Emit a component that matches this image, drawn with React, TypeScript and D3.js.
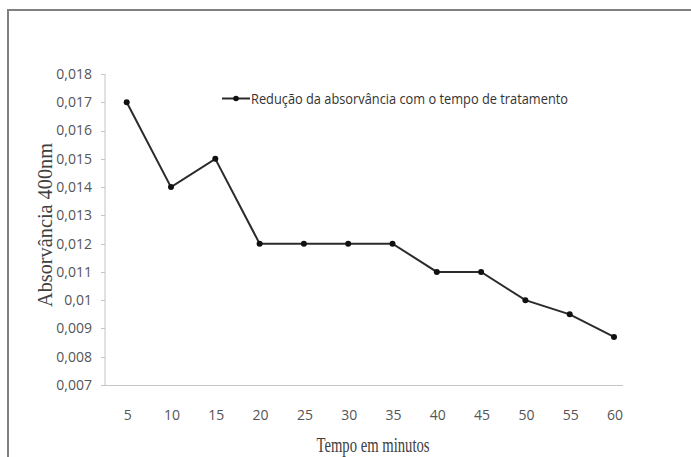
import * as d3 from "d3";
import { useEffect, useRef } from "react";

const minutes = ["5", "10", "15", "20", "25", "30", "35", "40", "45", "50", "55", "60"];
const absorbance = [0.017, 0.014, 0.015, 0.012, 0.012, 0.012, 0.012, 0.011, 0.011, 0.01, 0.0095, 0.0087];
const yTicks = [0.007, 0.008, 0.009, 0.01, 0.011, 0.012, 0.013, 0.014, 0.015, 0.016, 0.017, 0.018];
const yTickLabels = ["0,007", "0,008", "0,009", "0,01", "0,011", "0,012", "0,013", "0,014", "0,015", "0,016", "0,017", "0,018"];
const legendLabel = "Redução da absorvância com o tempo de tratamento";

export default function App() {
  const svgRef = useRef<SVGSVGElement>(null);
  const width = 691;
  const height = 457;

  useEffect(() => {
    if (!svgRef.current) return;
    const svg = d3.select(svgRef.current);
    svg.selectAll("*").remove();

    const sans = "'Open Sans', sans-serif";
    const serif = "'Liberation Serif', 'DejaVu Serif', serif";

    // outer frame (runs off the right and bottom edges)
    svg
      .append("rect")
      .attr("x", 8)
      .attr("y", 10)
      .attr("width", 720)
      .attr("height", 500)
      .style("fill", "none")
      .style("stroke", "#808080")
      .style("stroke-width", 2);

    const xScale = d3.scalePoint<string>().domain(minutes).range([126.7, 614]);
    const yScale = d3.scaleLinear().domain([0.007, 0.018]).range([385, 74]);

    const axisLeft = 105;
    const axisRight = 623;
    const axisColor = "#c4c4c4";

    // y axis
    svg
      .append("line")
      .attr("x1", axisLeft)
      .attr("x2", axisLeft)
      .attr("y1", yScale(0.018))
      .attr("y2", yScale(0.007))
      .style("stroke", axisColor);

    yTicks.forEach((t, i) => {
      svg
        .append("line")
        .attr("x1", axisLeft - 4)
        .attr("x2", axisLeft)
        .attr("y1", Math.round(yScale(t)) + 0.5)
        .attr("y2", Math.round(yScale(t)) + 0.5)
        .style("stroke", axisColor);
      svg
        .append("text")
        .attr("x", 92)
        .attr("y", yScale(t))
        .attr("dy", "0.35em")
        .attr("text-anchor", "end")
        .style("font-family", sans)
        .style("font-size", "14px")
        .style("fill", "#555")
        .text(yTickLabels[i]);
    });

    // x axis
    svg
      .append("line")
      .attr("x1", axisLeft)
      .attr("x2", axisRight)
      .attr("y1", 385.5)
      .attr("y2", 385.5)
      .style("stroke", axisColor);

    minutes.forEach((m) => {
      svg
        .append("text")
        .attr("x", xScale(m)! + 1)
        .attr("y", 415)
        .attr("dy", "0.35em")
        .attr("text-anchor", "middle")
        .style("font-family", sans)
        .style("font-size", "14px")
        .style("fill", "#555")
        .text(m);
    });

    // data line
    const line = d3
      .line<number>()
      .x((_, i) => xScale(minutes[i])!)
      .y((d) => yScale(d));

    svg
      .append("path")
      .datum(absorbance)
      .attr("d", line)
      .style("fill", "none")
      .style("stroke", "#2b2b2b")
      .style("stroke-width", 2);

    svg
      .selectAll(".pt")
      .data(absorbance)
      .enter()
      .append("circle")
      .attr("class", "pt")
      .attr("cx", (_, i) => xScale(minutes[i])!)
      .attr("cy", (d) => yScale(d))
      .attr("r", 3)
      .style("fill", "#111");

    // legend
    const legend = svg.append("g").attr("transform", "translate(222, 98.5)");
    legend
      .append("line")
      .attr("x1", 0)
      .attr("x2", 28)
      .style("stroke", "#2b2b2b")
      .style("stroke-width", 2);
    legend.append("circle").attr("cx", 14).attr("r", 2.8).style("fill", "#111");
    legend
      .append("text")
      .attr("x", 29)
      .attr("dy", "0.35em")
      .attr("textLength", 317)
      .attr("lengthAdjust", "spacingAndGlyphs")
      .style("font-family", sans)
      .style("font-size", "15px")
      .style("fill", "#333")
      .text(legendLabel);

    // axis titles
    svg
      .append("text")
      .attr("transform", "translate(52, 225) rotate(-90)")
      .attr("text-anchor", "middle")
      .attr("textLength", 164)
      .attr("lengthAdjust", "spacingAndGlyphs")
      .style("font-family", serif)
      .style("font-size", "20px")
      .style("fill", "#404040")
      .text("Absorvância 400nm");

    svg
      .append("text")
      .attr("x", 373)
      .attr("y", 452)
      .attr("text-anchor", "middle")
      .attr("textLength", 113)
      .attr("lengthAdjust", "spacingAndGlyphs")
      .style("font-family", serif)
      .style("font-size", "20px")
      .style("fill", "#404040")
      .text("Tempo em minutos");
  }, []);

  return (
    <svg
      ref={svgRef}
      width={width}
      height={height}
      style={{ position: "absolute", top: 0, left: 0, background: "#fff" }}
    />
  );
}
